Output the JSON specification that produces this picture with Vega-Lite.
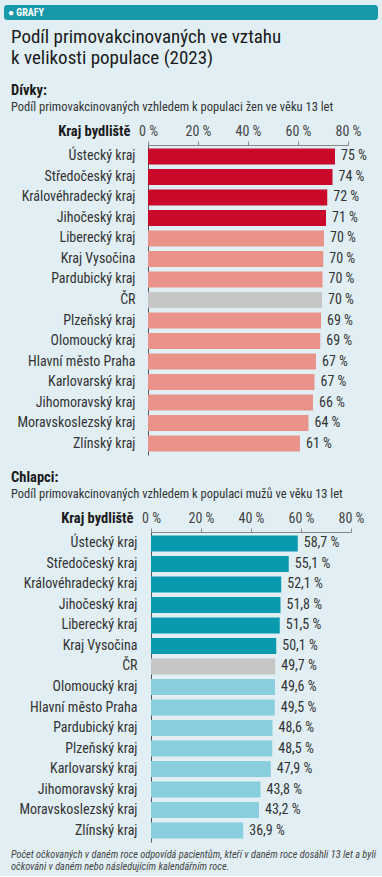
{
  "$schema": "https://vega.github.io/schema/vega-lite/v6.json",
  "background": "#e1eff5",
  "padding": {"left": 4, "right": 4, "top": 5, "bottom": 4},
  "config": {
    "font": "Liberation Sans Narrow, Roboto Condensed, Roboto, sans-serif",
    "view": {"stroke": null},
    "axis": {"grid": false}
  },
  "title": {
    "text": ["Počet očkovaných v daném roce odpovídá pacientům, kteří v daném roce dosáhli 13 let a byli", "očkováni v daném nebo následujícím kalendářním roce."],
    "orient": "bottom",
    "anchor": "start",
    "frame": "bounds",
    "dx": 7,
    "offset": 8,
    "fontSize": 10.3,
    "fontStyle": "italic",
    "fontWeight": "normal",
    "color": "#444444",
    "lineHeight": 11.5
  },
  "spacing": 15,
  "resolve": {"scale": {"color": "independent", "x": "independent"}},
  "vconcat": [
    {
      "width": 374,
      "height": 15,
      "view": {"fill": "#1899a9", "stroke": null, "cornerRadius": 3},
      "data": {"values": [{"etiketa": "●  GRAFY"}]},
      "mark": {"type": "text", "align": "left", "baseline": "middle", "dx": 4, "color": "white", "fontWeight": "bold", "fontSize": 10},
      "encoding": {
        "x": {"datum": 0, "type": "quantitative", "scale": {"domain": [0, 1]}, "axis": null},
        "text": {"field": "etiketa"}
      },
      "title": {
        "text": ["Podíl primovakcinovaných ve vztahu", "k velikosti populace (2023)"],
        "orient": "bottom",
        "anchor": "start",
        "frame": "group",
        "dx": 7,
        "offset": 8,
        "fontSize": 19,
        "fontWeight": "normal",
        "color": "#1a1a1a",
        "lineHeight": 21
      }
    },
    {
      "width": 344,
      "height": 310,
      "data": {"values": [
        {"kraj": "Ústecký kraj", "podil": 74.8, "skupina": "nad průměrem ČR"},
        {"kraj": "Středočeský kraj", "podil": 73.8, "skupina": "nad průměrem ČR"},
        {"kraj": "Královéhradecký kraj", "podil": 71.7, "skupina": "nad průměrem ČR"},
        {"kraj": "Jihočeský kraj", "podil": 71.2, "skupina": "nad průměrem ČR"},
        {"kraj": "Liberecký kraj", "podil": 70.4, "skupina": "do průměru ČR"},
        {"kraj": "Kraj Vysočina", "podil": 70.1, "skupina": "do průměru ČR"},
        {"kraj": "Pardubický kraj", "podil": 69.8, "skupina": "do průměru ČR"},
        {"kraj": "ČR", "podil": 69.6, "skupina": "ČR"},
        {"kraj": "Plzeňský kraj", "podil": 69.2, "skupina": "do průměru ČR"},
        {"kraj": "Olomoucký kraj", "podil": 68.9, "skupina": "do průměru ČR"},
        {"kraj": "Hlavní město Praha", "podil": 67.2, "skupina": "do průměru ČR"},
        {"kraj": "Karlovarský kraj", "podil": 66.6, "skupina": "do průměru ČR"},
        {"kraj": "Jihomoravský kraj", "podil": 66.0, "skupina": "do průměru ČR"},
        {"kraj": "Moravskoslezský kraj", "podil": 64.2, "skupina": "do průměru ČR"},
        {"kraj": "Zlínský kraj", "podil": 60.8, "skupina": "do průměru ČR"}
      ]},
      "transform": [{"calculate": "format(datum.podil, '.0f') + ' %'", "as": "popisek"}],
      "title": {
        "text": "Dívky:",
        "subtitle": "Podíl primovakcinovaných vzhledem k populaci žen ve věku 13 let",
        "anchor": "start",
        "frame": "group",
        "dx": 7,
        "offset": 9,
        "fontSize": 14.5,
        "fontWeight": "bold",
        "color": "#1a1a1a",
        "subtitleFontSize": 12.5,
        "subtitleColor": "#333333",
        "subtitlePadding": 2
      },
      "encoding": {
        "y": {
          "field": "kraj", "type": "nominal", "sort": null,
          "scale": {"paddingInner": 0.22, "paddingOuter": 0.17},
          "axis": {
            "offset": -144,
            "title": "Kraj bydliště", "titleAngle": 0, "titleAlign": "right", "titleBaseline": "alphabetic",
            "titleX": -18, "titleY": -10, "titleFontSize": 14.5, "titleFontWeight": "bold", "titleColor": "#1a1a1a",
            "ticks": false, "labelPadding": 13, "labelFontSize": 14, "labelColor": "#333333",
            "domainColor": "#555555"
          }
        },
        "x": {
          "field": "podil", "type": "quantitative",
          "scale": {"domain": [0, 80], "range": [144, 344]},
          "axis": {
            "orient": "top", "values": [0, 20, 40, 60, 80], "labelExpr": "datum.value + ' %'",
            "title": null, "domainColor": "#888888", "tickColor": "#888888", "tickSize": 4,
            "labelFontSize": 14, "labelColor": "#444444", "labelPadding": 3, "labelFlush": false
          }
        }
      },
      "layer": [
        {
          "mark": {"type": "bar"},
          "encoding": {
            "color": {
              "field": "skupina", "type": "nominal", "legend": null,
              "scale": {"domain": ["nad průměrem ČR", "ČR", "do průměru ČR"], "range": ["#c9082a", "#c6c6c6", "#e8928a"]}
            }
          }
        },
        {
          "mark": {"type": "text", "align": "left", "baseline": "middle", "dx": 6, "fontSize": 14, "color": "#333333"},
          "encoding": {"text": {"field": "popisek"}}
        }
      ]
    },
    {
      "width": 347,
      "height": 310,
      "data": {"values": [
        {"kraj": "Ústecký kraj", "podil": 58.7, "skupina": "nad průměrem ČR"},
        {"kraj": "Středočeský kraj", "podil": 55.1, "skupina": "nad průměrem ČR"},
        {"kraj": "Královéhradecký kraj", "podil": 52.1, "skupina": "nad průměrem ČR"},
        {"kraj": "Jihočeský kraj", "podil": 51.8, "skupina": "nad průměrem ČR"},
        {"kraj": "Liberecký kraj", "podil": 51.5, "skupina": "nad průměrem ČR"},
        {"kraj": "Kraj Vysočina", "podil": 50.1, "skupina": "nad průměrem ČR"},
        {"kraj": "ČR", "podil": 49.7, "skupina": "ČR"},
        {"kraj": "Olomoucký kraj", "podil": 49.6, "skupina": "do průměru ČR"},
        {"kraj": "Hlavní město Praha", "podil": 49.5, "skupina": "do průměru ČR"},
        {"kraj": "Pardubický kraj", "podil": 48.6, "skupina": "do průměru ČR"},
        {"kraj": "Plzeňský kraj", "podil": 48.5, "skupina": "do průměru ČR"},
        {"kraj": "Karlovarský kraj", "podil": 47.9, "skupina": "do průměru ČR"},
        {"kraj": "Jihomoravský kraj", "podil": 43.8, "skupina": "do průměru ČR"},
        {"kraj": "Moravskoslezský kraj", "podil": 43.2, "skupina": "do průměru ČR"},
        {"kraj": "Zlínský kraj", "podil": 36.9, "skupina": "do průměru ČR"}
      ]},
      "transform": [{"calculate": "replace(format(datum.podil, '.1f'), '.', ',') + ' %'", "as": "popisek"}],
      "title": {
        "text": "Chlapci:",
        "subtitle": "Podíl primovakcinovaných vzhledem k populaci mužů ve věku 13 let",
        "anchor": "start",
        "frame": "group",
        "dx": 7,
        "offset": 9,
        "fontSize": 14.5,
        "fontWeight": "bold",
        "color": "#1a1a1a",
        "subtitleFontSize": 12.5,
        "subtitleColor": "#333333",
        "subtitlePadding": 2
      },
      "encoding": {
        "y": {
          "field": "kraj", "type": "nominal", "sort": null,
          "scale": {"paddingInner": 0.22, "paddingOuter": 0.17},
          "axis": {
            "offset": -147,
            "title": "Kraj bydliště", "titleAngle": 0, "titleAlign": "right", "titleBaseline": "alphabetic",
            "titleX": -18, "titleY": -10, "titleFontSize": 14.5, "titleFontWeight": "bold", "titleColor": "#1a1a1a",
            "ticks": false, "labelPadding": 14, "labelFontSize": 14, "labelColor": "#333333",
            "domainColor": "#555555"
          }
        },
        "x": {
          "field": "podil", "type": "quantitative",
          "scale": {"domain": [0, 80], "range": [147, 347]},
          "axis": {
            "orient": "top", "values": [0, 20, 40, 60, 80], "labelExpr": "datum.value + ' %'",
            "title": null, "domainColor": "#888888", "tickColor": "#888888", "tickSize": 4,
            "labelFontSize": 14, "labelColor": "#444444", "labelPadding": 3, "labelFlush": false
          }
        }
      },
      "layer": [
        {
          "mark": {"type": "bar"},
          "encoding": {
            "color": {
              "field": "skupina", "type": "nominal", "legend": null,
              "scale": {"domain": ["nad průměrem ČR", "ČR", "do průměru ČR"], "range": ["#0a9ab0", "#c6c6c6", "#88cedc"]}
            }
          }
        },
        {
          "mark": {"type": "text", "align": "left", "baseline": "middle", "dx": 6, "fontSize": 14, "color": "#333333"},
          "encoding": {"text": {"field": "popisek"}}
        }
      ]
    }
  ]
}
